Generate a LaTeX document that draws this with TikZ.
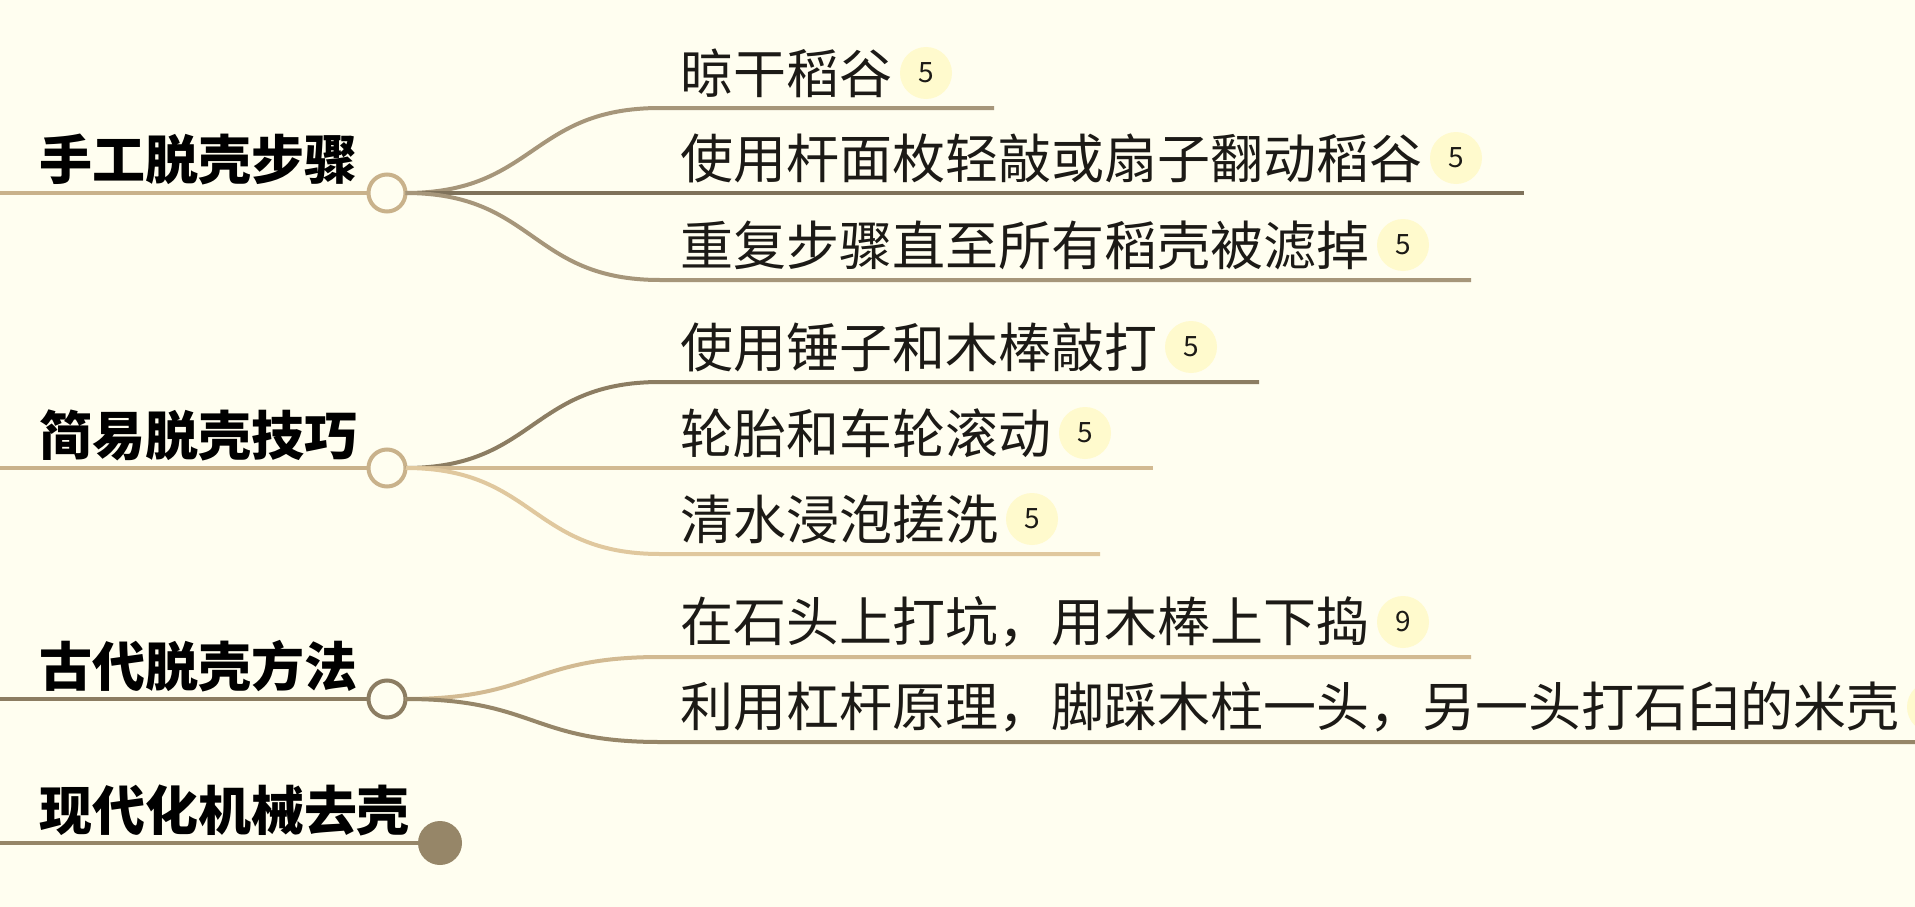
\documentclass[tikz,border=0pt]{standalone}
\usepackage{fontspec}
\usepackage{tikz}
\usetikzlibrary{positioning}
\newfontfamily\cjk{Noto Sans CJK SC}
\definecolor{paper}{HTML}{FFFEF0}
\definecolor{ink}{HTML}{1C1A16}
\definecolor{chip}{HTML}{FFFACD}
\definecolor{tan}{HTML}{C9B28B}
\definecolor{sand}{HTML}{D2BA92}
\definecolor{wheat}{HTML}{E0C89E}
\definecolor{taupe}{HTML}{A6967A}
\definecolor{umber}{HTML}{7F725A}
\definecolor{mocha}{HTML}{8C7D62}
\definecolor{khaki}{HTML}{968668}

\begin{document}
\begin{tikzpicture}[
  x=1pt,y=-1pt,
  every node/.style={inner sep=0pt,outer sep=0pt},
  topic/.style={anchor=west,text=black,font=\cjk\bfseries\fontsize{53}{60}\selectfont},
  leaf/.style={anchor=west,text=ink,font=\cjk\fontsize{53}{60}\selectfont},
  badge/.style={circle,fill=chip,minimum size=52pt,text=ink,font=\cjk\fontsize{28}{32}\selectfont},
  knob/.style={circle,draw,line width=4pt,fill=paper,minimum size=37pt},
  stem/.style={line width=4.5pt},
  twig/.style={line width=4pt},
]
\clip (0,0) rectangle (1915,907);
\fill[paper] (0,0) rectangle (1915,907);

% topics
\node[knob,draw=tan] (hand) at (387,193) {};
\node[knob,draw=tan] (easy) at (387,468) {};
\node[knob,draw=mocha] (old) at (387,699) {};
\node[circle,fill=khaki,minimum size=44pt] (modern) at (440,843) {};
\coordinate (s1) at (0,193);
\coordinate (s2) at (0,468);
\coordinate (s3) at (0,699);
\coordinate (s4) at (0,843);
\draw[stem,tan] (s1) -- (hand.west);
\draw[stem,tan] (s2) -- (easy.west);
\draw[stem,mocha] (s3) -- (old.west);
\draw[stem,khaki] (s4) -- (modern.west);
\node[topic] (t1) at (39,160) {手工脱壳步骤};
\node[topic] (t2) at (39,435) {简易脱壳技巧};
\node[topic] (t3) at (39,666) {古代脱壳方法};
\node[topic] (t4) at (39,810) {现代化机械去壳};

% leaves
\foreach \nm/\from/\y/\col/\num/\txt in {
  hand1/hand/108/taupe/5/晾干稻谷,
  hand2/hand/193/umber/5/使用杆面枚轻敲或扇子翻动稻谷,
  hand3/hand/280/taupe/5/重复步骤直至所有稻壳被滤掉,
  easy1/easy/382/mocha/5/使用锤子和木棒敲打,
  easy2/easy/468/sand/5/轮胎和车轮滚动,
  easy3/easy/554/wheat/5/清水浸泡搓洗,
  old1/old/657/sand/9/在石头上打坑，用木棒上下捣,
  old2/old/742/khaki/5/利用杠杆原理，脚踩木柱一头，另一头打石臼的米壳} {
  \coordinate (k\nm) at (660,\y);
  \node[leaf] (\nm) at (680,\y-35) {\txt};
  \node[badge,right=8pt of \nm] (n\nm) {\num};
  \path (n\nm.east |- k\nm) ++(42,0) coordinate (e\nm);
  \draw[twig,\col] (\from.east) .. controls +(130,0) and +(-130,0) .. (k\nm) -- (e\nm);
}
\end{tikzpicture}
\end{document}
